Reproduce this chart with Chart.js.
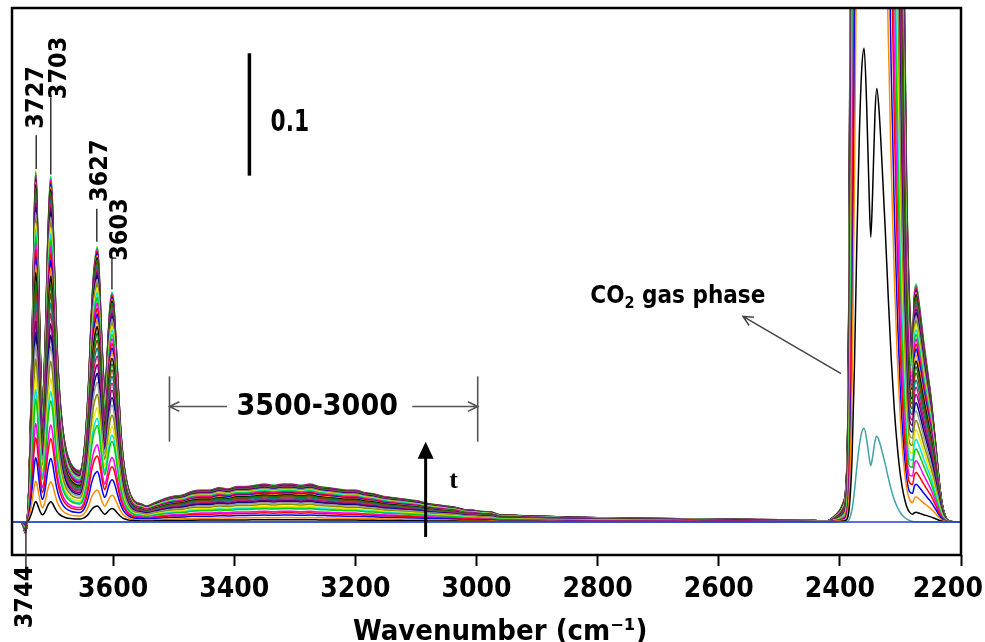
<!DOCTYPE html>
<html>
<head>
<meta charset="utf-8">
<script src="https://cdn.jsdelivr.net/npm/chart.js@4.4.1/dist/chart.umd.min.js"></script>
<style>
  html, body { margin: 0; padding: 0; background: #fff; }
  #wrap { width: 985px; height: 642px; }
</style>
</head>
<body>
<div id="wrap"><canvas id="espectro" width="985" height="642"></canvas></div>
<script>
// --- wavenumber grid, OH / broad band region (cm-1) ---
const wnOH = [3767, 3760, 3752, 3748, 3745, 3742, 3739, 3736, 3733, 3730,
  3728, 3726, 3723, 3720, 3717, 3714, 3711, 3708, 3705, 3703,
  3700, 3697, 3693, 3689, 3684, 3678, 3670, 3662, 3655, 3650,
  3645, 3640, 3636, 3632, 3628, 3626, 3623, 3620, 3617, 3614,
  3611, 3608, 3605, 3602, 3599, 3596, 3592, 3588, 3584, 3579,
  3574, 3568, 3562, 3555, 3545, 3530, 3515, 3500, 3485, 3470,
  3455, 3440, 3425, 3410, 3395, 3380, 3365, 3350, 3335, 3320,
  3305, 3290, 3275, 3260, 3245, 3230, 3215, 3200, 3185, 3170,
  3155, 3140, 3125, 3110, 3095, 3080, 3065, 3050, 3035, 3020,
  3005, 2990, 2975, 2960, 2940, 2920, 2900, 2880, 2850, 2800,
  2750, 2700, 2650, 2600, 2550, 2500, 2460, 2420];

// absorbance of the last (highest) spectrum in that region
const ohTop = [0, 0, 0, -0.004, -0.009, 0, 0.03, 0.09, 0.17, 0.255,
  0.287, 0.27, 0.2, 0.135, 0.1, 0.12, 0.17, 0.23, 0.27, 0.283,
  0.26, 0.21, 0.15, 0.11, 0.08, 0.06, 0.048, 0.043, 0.042, 0.05,
  0.075, 0.12, 0.17, 0.205, 0.222, 0.225, 0.205, 0.165, 0.13, 0.11,
  0.125, 0.155, 0.178, 0.188, 0.18, 0.155, 0.115, 0.08, 0.055, 0.037,
  0.026, 0.019, 0.016, 0.015, 0.013, 0.016, 0.019, 0.021, 0.022, 0.025,
  0.026, 0.026, 0.028, 0.027, 0.029, 0.029, 0.030, 0.031, 0.030, 0.031,
  0.031, 0.030, 0.031, 0.029, 0.028, 0.027, 0.026, 0.026, 0.024, 0.023,
  0.021, 0.020, 0.019, 0.018, 0.017, 0.015, 0.014, 0.013, 0.012, 0.010,
  0.0095, 0.0085, 0.008, 0.0057, 0.0055, 0.005, 0.0048, 0.0045, 0.004, 0.0035,
  0.003, 0.0028, 0.0025, 0.0022, 0.002, 0.0018, 0.0015, 0.001];

// --- CO2 region grid ---
const wnCO2 = [2410, 2400, 2395, 2390, 2387, 2385, 2383, 2380, 2376, 2372,
  2368, 2364, 2360, 2356, 2352, 2349, 2346, 2342, 2339, 2335,
  2330, 2325, 2320, 2315, 2310, 2305, 2300, 2295, 2290, 2285,
  2280, 2277, 2274, 2270, 2266, 2262, 2258, 2254, 2250, 2246,
  2242, 2238, 2234, 2230, 2226, 2220, 2210, 2200];

// gas phase CO2 doublet, as in the first (teal) spectrum
const gasTeal = [0.00004, 0.00009, 0.00014, 0.00027, 0.00073, 0.0018, 0.0041, 0.010, 0.025, 0.045,
  0.062, 0.073, 0.0765, 0.068, 0.054, 0.046, 0.053, 0.066, 0.070, 0.066,
  0.057, 0.047, 0.036, 0.026, 0.018, 0.012, 0.0075, 0.0045, 0.0025, 0.0012,
  0.0003, 0.00015, 0.00008, 0.00004, 0.00002, 0, 0, 0, 0, 0,
  0, 0, 0, 0, 0, 0, 0, 0];

// adsorbed band near 2274, last spectrum
const adsTop = [0, 0, 0, 0, 0, 0, 0, 0, 0, 0,
  0, 0, 0, 0, 0, 0, 0, 0, 0, 0,
  0, 0, 0, 0, 0, 0, 0.001, 0.004, 0.012, 0.05,
  0.12, 0.17, 0.186, 0.178, 0.164, 0.149, 0.134, 0.119, 0.104, 0.085,
  0.065, 0.044, 0.025, 0.012, 0.005, 0.001, 0, 0];

// growth of each band for every spectrum in time order (0 = reference baseline)
const ohLevel = [0, 0, 0.058, 0.116, 0.183, 0.24, 0.28, 0.35, 0.377, 0.415,
  0.464, 0.507, 0.54, 0.572, 0.603, 0.632, 0.66, 0.686, 0.71, 0.733,
  0.755, 0.776, 0.796, 0.815, 0.833, 0.85, 0.866, 0.881, 0.895, 0.908,
  0.92, 0.931, 0.941, 0.951, 0.96, 0.968, 0.976, 0.983, 0.989, 0.994,
  0.998, 1.0];
const adsLevel = [0, 0, 0.04, 0.105, 0.16, 0.21, 0.26, 0.31, 0.35, 0.39,
  0.43, 0.47, 0.505, 0.54, 0.57, 0.6, 0.63, 0.655, 0.68, 0.705,
  0.73, 0.75, 0.77, 0.79, 0.81, 0.83, 0.848, 0.865, 0.88, 0.895,
  0.909, 0.922, 0.934, 0.945, 0.955, 0.964, 0.972, 0.98, 0.987, 0.993,
  0.997, 1.0];
const gasLevel = [0, 1, 5.06, 11, 14, 18, 21, 25, 28, 32,
  36, 40, 43, 47, 50, 53, 57, 60, 63, 66,
  69, 72, 75, 78, 80, 83, 85, 88, 90, 92,
  94, 96, 98, 100, 101, 103, 104, 106, 107, 108,
  109, 110];

const tickVals = [3600, 3400, 3200, 3000, 2800, 2600, 2400, 2200];
const peakLabels = ['3727', '3703', '3627', '3603'];

const colores = ['#000000', '#ff8c00', '#0000ff', '#ff0000', '#ff00ff', '#00d000', '#00e5e5', '#e8e800',
  '#8a8a00', '#9a9a9a', '#000080', '#800080', '#c0206a', '#008080', '#804000', '#008000'];

const FONT = '"DejaVu Sans Condensed", "DejaVu Sans", sans-serif';

function serie(i) {
  const oh = wnOH.map((w, k) => ({ x: w, y: ohLevel[i] * ohTop[k] }));
  const co2 = wnCO2.map((w, k) => ({ x: w, y: gasLevel[i] * gasTeal[k] + adsLevel[i] * adsTop[k] }));
  return oh.concat(co2);
}

function colorDe(i) {
  if (i === 0) return '#2a3fd0';
  if (i === 1) return '#3fa3a8';
  return colores[(i - 2) % colores.length];
}

const datasets = ohLevel.map((_, i) => ({
  data: serie(i),
  borderColor: colorDe(i),
  borderWidth: 1.5,
  pointRadius: 0,
  fill: false
}));

function flecha(ctx, x0, y0, x1, y1, tam) {
  const a = Math.atan2(y1 - y0, x1 - x0);
  ctx.beginPath();
  ctx.moveTo(x0, y0); ctx.lineTo(x1, y1);
  ctx.moveTo(x1 - tam * Math.cos(a - 0.45), y1 - tam * Math.sin(a - 0.45));
  ctx.lineTo(x1, y1);
  ctx.lineTo(x1 - tam * Math.cos(a + 0.45), y1 - tam * Math.sin(a + 0.45));
  ctx.stroke();
}

const anotaciones = {
  id: 'anotaciones',
  afterDraw(chart) {
    const { ctx, chartArea: ca, scales: { x, y } } = chart;
    const P = (w, a) => [x.getPixelForValue(w), y.getPixelForValue(a)];
    const vtexto = (t, cx, cy, size) => {
      ctx.save();
      ctx.translate(cx, cy); ctx.rotate(-Math.PI / 2);
      ctx.font = 'bold ' + size + 'px ' + FONT;
      ctx.textAlign = 'center'; ctx.textBaseline = 'middle';
      ctx.fillText(t, 0, 0);
      ctx.restore();
    };
    const linea = (p, q) => { ctx.beginPath(); ctx.moveTo(p[0], p[1]); ctx.lineTo(q[0], q[1]); ctx.stroke(); };

    ctx.save();
    ctx.fillStyle = '#000';

    // marco
    ctx.strokeStyle = '#000'; ctx.lineWidth = 2.5;
    ctx.strokeRect(ca.left, ca.top, ca.right - ca.left, ca.bottom - ca.top);

    // etiquetas de picos
    ctx.strokeStyle = '#333'; ctx.lineWidth = 1.5;
    linea(P(3727, 0.316), P(3727, 0.2885));
    vtexto(peakLabels[0], P(3727, 0)[0], P(0, 0.347)[1], 25);
    linea(P(3703, 0.347), P(3703, 0.284));
    vtexto(peakLabels[1], P(3688, 0)[0], P(0, 0.371)[1], 25);
    linea(P(3627, 0.256), P(3627, 0.229));
    vtexto(peakLabels[2], P(3621, 0)[0], P(0, 0.287)[1], 25);
    linea(P(3602, 0.19), P(3602, 0.2156));
    linea(P(3602, 0.2156), P(3595, 0.2156));
    vtexto(peakLabels[3], P(3588, 0)[0], P(0, 0.239)[1], 25);

    // 3744 (bajo el eje)
    const x3744 = P(3744, 0)[0];
    linea([x3744, P(0, 0)[1]], [x3744, ca.bottom + 12]);
    vtexto('3744', x3744, ca.bottom + 42, 25);

    // barra de escala 0.1
    ctx.strokeStyle = '#000'; ctx.lineWidth = 3.5;
    linea(P(3375, 0.383), P(3375, 0.283));
    const pt = P(3340, 0.326);
    ctx.save();
    ctx.translate(pt[0], pt[1]); ctx.scale(0.78, 1);
    ctx.font = 'bold 31px ' + FONT;
    ctx.textAlign = 'left'; ctx.textBaseline = 'middle';
    ctx.fillText('0.1', 0, 0);
    ctx.restore();

    // intervalo 3500-3000
    ctx.strokeStyle = '#555'; ctx.lineWidth = 1.6;
    linea(P(3507, 0.119), P(3507, 0.0656));
    linea(P(2998, 0.119), P(2998, 0.0656));
    let p0 = P(3412, 0.0943), p1 = P(3507, 0.0943);
    flecha(ctx, p0[0], p0[1], p1[0], p1[1], 11);
    p0 = P(3106, 0.0943); p1 = P(2998, 0.0943);
    flecha(ctx, p0[0], p0[1], p1[0], p1[1], 11);
    ctx.fillStyle = '#000';
    ctx.font = 'bold 30px ' + FONT;
    ctx.textAlign = 'center'; ctx.textBaseline = 'middle';
    const pm = P(3263, 0.0943);
    ctx.fillText('3500-3000', pm[0], pm[1] + 1);

    // flecha del tiempo
    const a0 = P(3084, -0.0123), a1 = P(3084, 0.0656);
    ctx.strokeStyle = '#000'; ctx.lineWidth = 3;
    linea(a0, [a1[0], a1[1] + 14]);
    ctx.beginPath();
    ctx.moveTo(a1[0], a1[1]);
    ctx.lineTo(a1[0] - 8, a1[1] + 17);
    ctx.lineTo(a1[0] + 8, a1[1] + 17);
    ctx.closePath(); ctx.fill();
    ctx.font = 'bold 26px "Liberation Serif", "DejaVu Serif", serif';
    const ptt = P(3038, 0.033);
    ctx.fillText('t', ptt[0], ptt[1]);

    // CO2 fase gas
    ctx.textAlign = 'left'; ctx.textBaseline = 'alphabetic';
    const pc = P(2812, 0.179);
    let cx = pc[0];
    ctx.font = 'bold 24px ' + FONT;
    ctx.fillText('CO', cx, pc[1]); cx += ctx.measureText('CO').width;
    ctx.font = 'bold 16px ' + FONT;
    ctx.fillText('2', cx, pc[1] + 5); cx += ctx.measureText('2').width;
    ctx.font = 'bold 24px ' + FONT;
    ctx.fillText(' gas phase', cx, pc[1]);
    ctx.strokeStyle = '#444'; ctx.lineWidth = 1.5;
    p0 = P(2398, 0.1213); p1 = P(2560, 0.168);
    flecha(ctx, p0[0], p0[1], p1[0], p1[1], 11);

    ctx.restore();
  }
};

new Chart(document.getElementById('espectro'), {
  type: 'line',
  data: { datasets },
  plugins: [anotaciones],
  options: {
    responsive: false,
    animation: false,
    devicePixelRatio: 1,
    layout: { padding: { top: 8, right: 24, bottom: -5, left: 12 } },
    plugins: { legend: { display: false }, tooltip: { enabled: false } },
    elements: { line: { cubicInterpolationMode: 'monotone' } },
    scales: {
      x: {
        type: 'linear',
        reverse: true,
        min: 2200,
        max: 3767,
        afterBuildTicks: s => { s.ticks = tickVals.map(v => ({ value: v })); },
        afterFit: s => { s.paddingLeft = 0; s.paddingRight = 0; },
        grid: { drawOnChartArea: false, drawTicks: true, tickLength: 11, tickWidth: 2, tickColor: '#000' },
        border: { display: false },
        ticks: {
          color: '#000', padding: 10, maxRotation: 0, autoSkip: false,
          font: { family: FONT, size: 28, weight: 'bold', lineHeight: 1 },
          callback: v => (v === 2200 ? '2200   ' : String(v))
        },
        title: {
          display: true,
          text: '   Wavenumber (cm\u207B\u00B9)',
          color: '#000',
          padding: { top: 4, bottom: 0 },
          font: { family: FONT, size: 29, weight: 'bold', lineHeight: 1 }
        }
      },
      y: { display: false, min: -0.027, max: 0.42 }
    }
  }
});
</script>
</body>
</html>
